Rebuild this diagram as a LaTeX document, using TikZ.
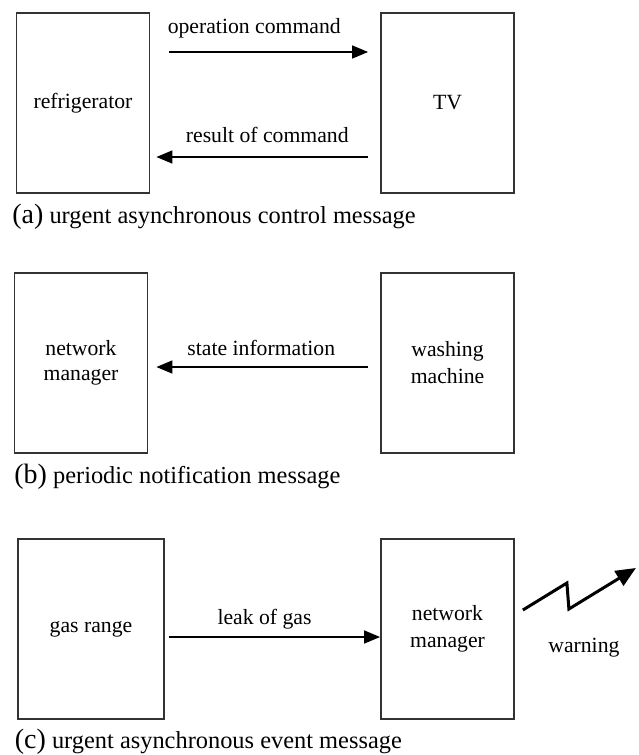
\documentclass[tikz,border=0pt]{standalone}
\usepackage{fontspec}
\setmainfont{Liberation Serif}
\usetikzlibrary{arrows.meta,positioning}

\begin{document}
\begin{tikzpicture}[->,>={Triangle[length=16pt,width=13pt]},line width=1.5pt,node distance=364.5pt]
\tikzstyle{every node}=[font=\fontsize{21.7}{25}\selectfont]
\tikzstyle{device}=[draw=black!80,line width=1.8pt,minimum width=133pt,minimum height=180pt,align=center,inner sep=0pt]
\tikzstyle{msg}=[inner sep=0pt]
\tikzstyle{caption}=[anchor=base west,inner sep=0pt,font=\fontsize{24.4}{27}\selectfont]

\useasboundingbox (0,0) rectangle (638pt,-755pt);

% (a)
\node[device] (fridge) at (83pt,-103pt) {refrigerator};
\node[device] (tv) [right of=fridge] {TV};

\path ([yshift=51pt]fridge.east) edge[shorten <=19pt,shorten >=12pt] node[msg,above=13pt,xshift=-11pt] {operation command} ([yshift=51pt]tv.west)
      ([yshift=-54pt]tv.west) edge[shorten <=12pt,shorten >=6pt] node[msg,above=14pt,xshift=2pt] {result of command} ([yshift=-54pt]fridge.east);

\node[caption] (capa) at ([xshift=-4pt,yshift=-30pt]fridge.south west) {{\fontsize{28}{30}\selectfont(a)} urgent asynchronous control message};

% (b)
\node[device] (netmgr) at (81pt,-363pt) {network\\manager};
\node[device,font=\fontsize{21.7}{27}\selectfont] (washer) [right of=netmgr,node distance=366.5pt] {washing\\machine};

\path ([yshift=-4pt]washer.west) edge[shorten <=12pt,shorten >=8pt] node[msg,above=11pt,xshift=-3pt] {state information} ([yshift=-4pt]netmgr.east);

\node[caption] (capb) at ([yshift=-30pt]netmgr.south west) {{\fontsize{28}{30}\selectfont(b)} periodic notification message};

% (c)
\node[device,minimum width=146pt] (gas) at (91pt,-629pt) {gas range};
\node[device,font=\fontsize{21.7}{27}\selectfont] (hub) [right of=gas,node distance=356.5pt] {network\\manager};

\path ([yshift=-8pt]gas.east) edge[shorten <=4pt] node[msg,above=7pt,xshift=-8pt] {leak of gas} ([yshift=-8pt]hub.west);

\coordinate (warntip) at ([shift={(121pt,61pt)}]hub.east);
\draw[line width=3pt,-{Triangle[length=20pt,width=17pt]}] ([shift={(8pt,19pt)}]hub.east) -- ++(44pt,27pt) -- ++(2pt,-26pt) -- (warntip);
\node[msg] (warn) at ([shift={(69pt,-19pt)}]hub.east) {warning};

\node[caption] (capc) at ([xshift=-3pt,yshift=-29pt]gas.south west) {{\fontsize{28}{30}\selectfont(c)} urgent asynchronous event message};
\end{tikzpicture}
\end{document}
